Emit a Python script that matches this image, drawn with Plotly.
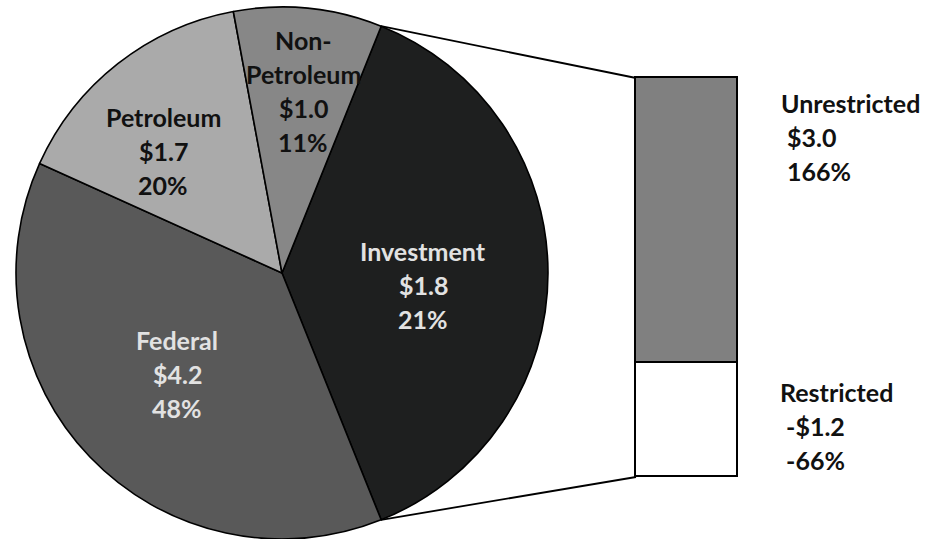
import math
import plotly.graph_objects as go

# ---- data ($ billions) ----
pie_labels = ["Investment", "Federal", "Petroleum", "Non-Petroleum"]
pie_values = [1.8, 4.2, 1.7, 1.0]
pie_pct = ["21%", "48%", "20%", "11%"]

# breakdown of investment income
bar_labels = ["Unrestricted", "Restricted"]
bar_values = [3.0, -1.2]
bar_pct = ["166%", "-66%"]

# ---- style ----
W, H = 925, 539
FONT = "Lato"
FS = 25
LINE_GAP = 34
pie_colors = {"Investment": "#1e1f1f", "Federal": "#595959",
              "Petroleum": "#aaaaaa", "Non-Petroleum": "#878787"}
text_colors = {"Investment": "#e2e2e2", "Federal": "#e2e2e2",
               "Petroleum": "#111111", "Non-Petroleum": "#111111"}
bar_colors = {"Unrestricted": "#808080", "Restricted": "#ffffff"}
name_lines = {"Non-Petroleum": ["Non-", "Petroleum"]}

# pie placement (pixels)
R = 266
CX = 282
CY = H - R

# bar placement (pixels)
BAR_X0, BAR_X1 = 636, 738
BAR_TOP, BAR_BOTTOM = 78, 477
AX_X0, AX_X1 = 600, 780

# label anchors: centre x (or left x) and first line y, pixels
pie_label_pos = {"Investment": (423, 251), "Federal": (177, 340),
                 "Petroleum": (163, 117), "Non-Petroleum": (303, 40)}
bar_label_pos = {"Unrestricted": (779, 103), "Restricted": (778, 392)}


def money(v):
    return ("-" if v < 0 else "") + "${:.1f}".format(abs(v))


# the investment wedge is sized from the magnitudes of its parts
inv_size = sum(abs(v) for v in bar_values)
slice_sizes = [inv_size if lab == "Investment" else v
               for lab, v in zip(pie_labels, pie_values)]
total = sum(slice_sizes)
rotation = 90 - inv_size / total * 180
inv_span = inv_size / total * 360

fig = go.Figure()

fig.add_trace(go.Pie(
    labels=pie_labels,
    values=slice_sizes,
    sort=False,
    direction="clockwise",
    rotation=rotation,
    marker=dict(colors=[pie_colors[l] for l in pie_labels],
                line=dict(color="#000000", width=1.6)),
    textinfo="none",
    hoverinfo="label",
    showlegend=False,
    domain=dict(x=[(CX - R) / W, (CX + R) / W], y=[0, 2 * R / H]),
))

# stacked bar: restricted at the bottom, unrestricted on top
bar_total = sum(abs(v) for v in bar_values)
upp = bar_total / (BAR_BOTTOM - BAR_TOP)
y_lo = -(H - BAR_BOTTOM) * upp
y_hi = bar_total + BAR_TOP * upp

# x axis in pixel-like units so the bar width is set in layout terms
x_mid = (BAR_X0 + BAR_X1) / 2
bar_w = BAR_X1 - BAR_X0

for lab in ["Restricted", "Unrestricted"]:
    v = bar_values[bar_labels.index(lab)]
    fig.add_trace(go.Bar(
        x=[x_mid], y=[abs(v)], width=bar_w,
        marker=dict(color=bar_colors[lab], line=dict(color="#000000", width=1.8)),
        hoverinfo="skip", showlegend=False, cliponaxis=False,
    ))


def pie_point(angle_deg):
    a = math.radians(angle_deg)
    px = CX + R * math.sin(a)
    py = CY - R * math.cos(a)
    return px / W, 1 - py / H


def bar_y_paper(yv):
    return (yv - y_lo) / (y_hi - y_lo)


bx0 = BAR_X0 / W
for ang, yv in [(rotation, bar_total), (rotation + inv_span, 0)]:
    x0, y0 = pie_point(ang)
    fig.add_shape(type="line", xref="paper", yref="paper",
                  x0=x0, y0=y0, x1=bx0, y1=bar_y_paper(yv),
                  line=dict(color="#000000", width=1.8), layer="below")

annotations = []


def add_lines(lines, x, y, color, xanchor):
    for i, t in enumerate(lines):
        annotations.append(dict(
            text=t, x=x / W, y=1 - (y + i * LINE_GAP) / H,
            xref="paper", yref="paper", xanchor=xanchor, yanchor="middle",
            showarrow=False,
            font=dict(family=FONT, size=FS, color=color, weight="bold"),
        ))


for lab, v, p in zip(pie_labels, pie_values, pie_pct):
    lines = name_lines.get(lab, [lab]) + [money(v), p]
    x, y = pie_label_pos[lab]
    add_lines(lines, x, y, text_colors[lab], "center")

for lab, v, p in zip(bar_labels, bar_values, bar_pct):
    lines = [lab, "\u00a0" + money(v), "\u00a0" + p]
    x, y = bar_label_pos[lab]
    add_lines(lines, x, y, "#111111", "left")

fig.update_layout(
    width=W, height=H,
    margin=dict(l=0, r=0, t=0, b=0),
    paper_bgcolor="#ffffff", plot_bgcolor="rgba(0,0,0,0)",
    barmode="stack", bargap=0,
    xaxis=dict(domain=[AX_X0 / W, AX_X1 / W], range=[AX_X0, AX_X1],
               visible=False, fixedrange=True),
    yaxis=dict(domain=[0, 1], range=[y_lo, y_hi], visible=False, fixedrange=True),
    annotations=annotations,
)

fig.write_html("out.html")
